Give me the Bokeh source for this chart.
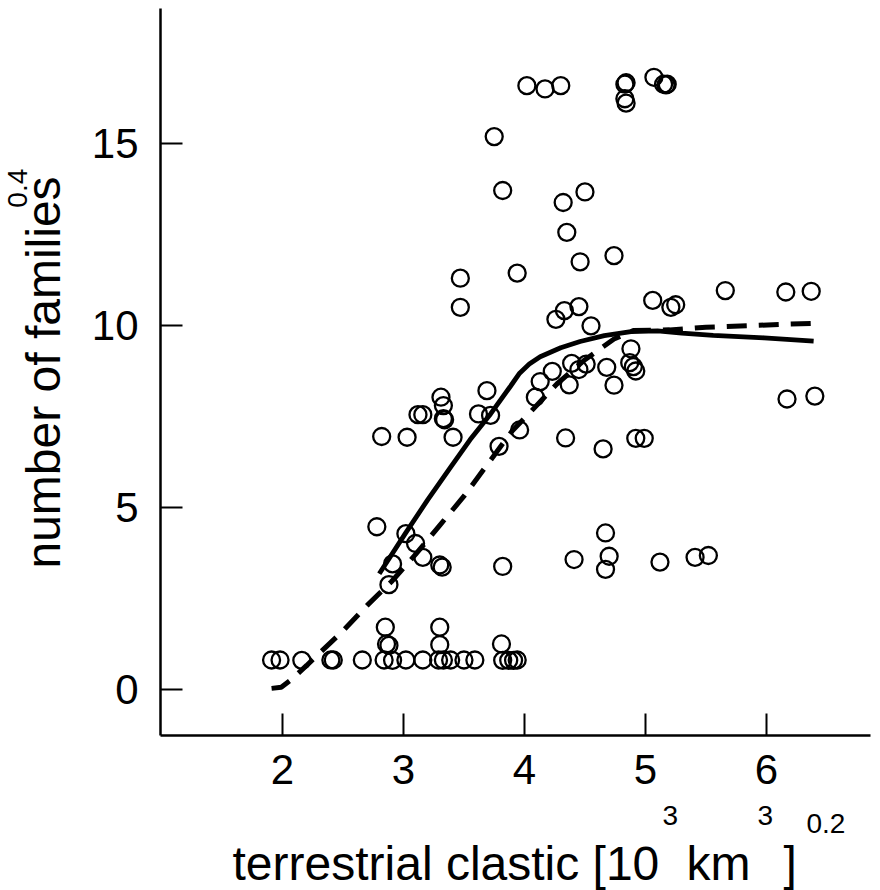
import math
from bokeh.plotting import figure
from bokeh.models import Range1d, FixedTicker
from bokeh.layouts import row, column
from bokeh.core.properties import value
from bokeh.embed import file_html
from bokeh.resources import INLINE

# ---- data ----
pt_x = [1.91, 1.98, 2.16, 2.40, 2.42, 2.66, 2.84, 2.91, 3.02, 3.16, 3.29, 3.33, 3.39, 3.50, 3.59,
        3.82, 3.87, 3.91, 3.94,
        2.86, 2.88, 3.30, 3.81,
        2.85, 3.30,
        2.88,
        2.91, 3.30, 3.32, 3.82, 4.41, 4.67, 4.70, 5.12, 5.41, 5.52, 3.16,
        3.10, 3.02, 2.78, 4.67,
        2.82, 3.03, 3.41, 3.79, 3.96, 4.34, 4.65, 4.92, 4.99,
        3.12, 3.16, 3.31, 3.33, 3.33, 3.34, 3.62, 3.72, 3.69, 4.09, 4.13, 4.37, 4.74, 6.17, 6.40,
        4.23, 4.39, 4.45, 4.51, 4.68, 4.88, 4.87, 4.90, 4.92,
        4.26, 4.33, 4.45, 4.55, 5.06, 5.21, 5.25, 3.47,
        3.47, 3.94, 4.46, 4.74, 5.66, 6.16, 6.37,
        4.35, 4.32, 4.50, 3.82,
        3.75,
        4.02, 4.17, 4.30, 4.83, 4.84, 4.83, 4.84, 5.07, 5.15, 5.17, 5.18]
pt_y = [0.80, 0.80, 0.79, 0.80, 0.80, 0.80, 0.80, 0.79, 0.80, 0.80, 0.80, 0.80, 0.80, 0.80, 0.80,
        0.79, 0.79, 0.79, 0.80,
        1.24, 1.20, 1.22, 1.24,
        1.70, 1.70,
        2.87,
        3.44, 3.41, 3.35, 3.37, 3.56, 3.29, 3.65, 3.49, 3.62, 3.67, 3.62,
        4.00, 4.27, 4.46, 4.29,
        6.94, 6.92, 6.92, 6.67, 7.12, 6.90, 6.60, 6.89, 6.89,
        7.54, 7.54, 8.02, 7.79, 7.43, 7.40, 7.56, 7.52, 8.20, 8.02, 8.45, 8.36, 8.35, 7.97, 8.05,
        8.73, 8.95, 8.78, 8.93, 8.84, 9.35, 8.97, 8.86, 8.74,
        10.16, 10.40, 10.51, 9.98, 10.68, 10.49, 10.56, 10.49,
        11.29, 11.43, 11.74, 11.91, 10.95, 10.91, 10.93,
        12.55, 13.37, 13.66, 13.70,
        15.18,
        16.58, 16.49, 16.58, 16.62, 16.66, 16.22, 16.10, 16.81, 16.62, 16.60, 16.62]

solid_x = [2.80, 3.02, 3.20, 3.39, 3.55, 3.72, 3.88, 3.96, 4.04, 4.13, 4.30, 4.46, 4.66, 4.88, 5.10, 5.30, 5.56, 5.98, 6.39]
solid_y = [3.17, 4.30, 5.20, 6.10, 6.85, 7.56, 8.30, 8.68, 8.93, 9.13, 9.38, 9.55, 9.71, 9.82, 9.84, 9.78, 9.72, 9.65, 9.56]

dash_x = [1.91, 1.99, 2.07, 2.20, 2.30, 2.50, 2.70, 2.90, 3.10, 3.30, 3.50, 3.70, 3.90, 4.06, 4.27, 4.50, 4.74, 4.90, 5.20, 5.50, 5.90, 6.20, 6.39]
dash_y = [0.02, 0.05, 0.25, 0.65, 0.97, 1.60, 2.30, 2.95, 3.70, 4.50, 5.30, 6.20, 7.10, 7.65, 8.39, 9.05, 9.62, 9.85, 9.87, 9.94, 9.99, 10.03, 10.05]

x_ticks = [2, 3, 4, 5, 6]
y_ticks = [0, 5, 10, 15]

x_title = ["terrestrial clastic [10", "3", "km", "3", "]", "0.2"]
y_title = ["number of families", "0.4"]

# ---- layout ----
FONT = "Liberation Sans"
W, H = 880, 890
LEFT_W = 80            # width of the y-title strip
MAIN_W, MAIN_H = 800, 801
BOT_H = H - MAIN_H     # height of the x-title strip
X0, X1 = 0.992, 6.86
Y0, Y1 = -1.275, 18.70
MID = 0.35             # baseline sits this many em below a "middle" anchor


def blank(width, height):
    f = figure(width=width, height=height, output_backend="svg", toolbar_location=None,
               x_range=Range1d(0, width), y_range=Range1d(0, height),
               x_axis_type=None, y_axis_type=None, min_border=0)
    f.outline_line_color = None
    f.xgrid.visible = False
    f.ygrid.visible = False
    f.background_fill_color = "white"
    f.border_fill_color = "white"
    return f


p = figure(width=MAIN_W, height=MAIN_H, output_backend="svg", toolbar_location=None,
           x_range=Range1d(X0, X1), y_range=Range1d(Y0, Y1),
           min_border_left=80, min_border_right=10,
           min_border_top=8, min_border_bottom=66)
p.outline_line_color = None
p.xgrid.visible = False
p.ygrid.visible = False
p.background_fill_color = "white"
p.border_fill_color = "white"

for ax in (p.xaxis[0], p.yaxis[0]):
    ax.axis_line_width = 2.5
    ax.axis_line_color = "black"
    ax.major_tick_in = 22
    ax.major_tick_out = 0
    ax.major_tick_line_width = 2
    ax.major_tick_line_color = "black"
    ax.minor_tick_line_color = None
    ax.major_label_text_font = FONT
    ax.major_label_text_font_size = "42px"
    ax.major_label_text_color = "black"

p.xaxis[0].ticker = FixedTicker(ticks=x_ticks)
p.yaxis[0].ticker = FixedTicker(ticks=y_ticks)
p.xaxis[0].major_label_standoff = 19
p.yaxis[0].major_label_standoff = 22

p.line(dash_x, dash_y, line_color="black", line_width=5, line_dash="20 12")
p.line(solid_x, solid_y, line_color="black", line_width=4.8)
p.scatter(pt_x, pt_y, marker="circle", size=17, line_color="black",
          line_width=2.3, fill_color=None)


def put(fig, text, x, y, size, angle=0.0, align="left"):
    fig.text(x=[x], y=[y], text=[text], angle=angle,
             text_font=value(FONT), text_font_size=value(f"{size}px"),
             text_align=align, text_baseline="middle", text_color="black")


# y-axis title strip (pixels, y up from strip bottom); rotated text -> "up" is -x
pl = blank(LEFT_W, MAIN_H)
put(pl, y_title[0], 60 - MID * 48, MAIN_H - 401, 48, angle=math.pi / 2, align="center")
put(pl, y_title[1], 27 - MID * 28, MAIN_H - 198, 28, angle=math.pi / 2, align="center")

# x-axis title strip (pixels, y up from strip bottom = page y 890)
pb = blank(W, BOT_H)


def up(py, size):
    return (H - py) + MID * size


put(pb, x_title[0], 232, up(880, 48), 48)
put(pb, x_title[1], 662, up(825, 28), 28)
put(pb, x_title[2], 686, up(880, 48), 48)
put(pb, x_title[3], 757, up(825, 28), 28)
put(pb, x_title[4], 783, up(880, 48), 48)
put(pb, x_title[5], 806, up(833, 28), 28)

layout = column(row(pl, p, spacing=0), pb, spacing=0)

open("out.html", "w").write(file_html(layout, INLINE))
